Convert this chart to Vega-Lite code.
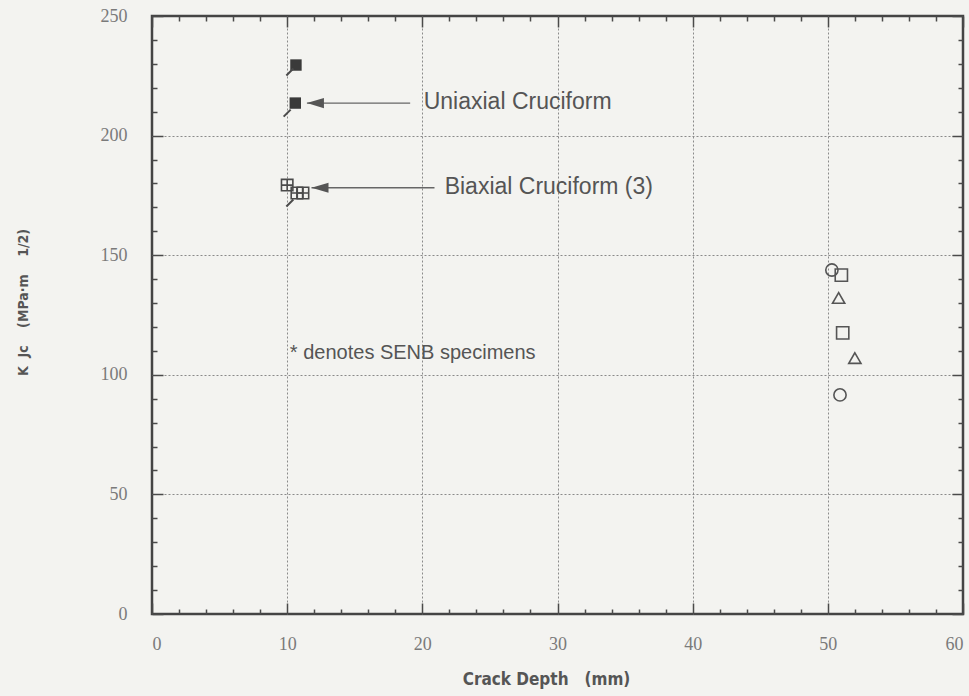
{
  "$schema": "https://vega.github.io/schema/vega-lite/v6.json",
  "width": 811,
  "height": 598,
  "autosize": {"type": "none"},
  "padding": {"left": 152, "top": 16, "right": 6, "bottom": 82},
  "background": "#f3f3f0",
  "config": {
    "view": {"stroke": "#444444", "strokeWidth": 2.5},
    "axis": {
      "domain": false,
      "tickColor": "#4a4a4a",
      "tickWidth": 1.5,
      "labelFont": "Liberation Serif",
      "labelFontSize": 18,
      "labelColor": "#7a7a7a",
      "gridColor": "#8a8a8a",
      "gridDash": [2, 2],
      "gridWidth": 1
    }
  },
  "datasets": {
    "uniaxial": [
      {"depth": 10.65, "kjc": 229.5},
      {"depth": 10.6, "kjc": 213.6}
    ],
    "biaxial": [
      {"depth": 10.0, "kjc": 179.3},
      {"depth": 10.72, "kjc": 176.0},
      {"depth": 11.17, "kjc": 176.0}
    ],
    "senb_marks": [
      {"depth": 10.2, "kjc": 226.6},
      {"depth": 10.0, "kjc": 209.4},
      {"depth": 10.2, "kjc": 171.8}
    ],
    "deep": [
      {"depth": 50.3, "kjc": 143.8, "set": "A"},
      {"depth": 51.0, "kjc": 141.7, "set": "B"},
      {"depth": 50.8, "kjc": 132.1, "set": "C"},
      {"depth": 51.1, "kjc": 117.5, "set": "B"},
      {"depth": 52.0, "kjc": 107.0, "set": "C"},
      {"depth": 50.9, "kjc": 91.6, "set": "A"}
    ],
    "arrows": [
      {"depth": 11.46, "end": 19.1, "kjc": 213.6, "head": 12.09},
      {"depth": 11.8, "end": 20.9, "kjc": 178.2, "head": 12.43}
    ],
    "callouts": [
      {"label": "Uniaxial Cruciform", "depth": 20.1, "kjc": 214},
      {"label": "Biaxial Cruciform (3)", "depth": 21.65, "kjc": 178.5}
    ],
    "footnote": [
      {"label": "* denotes SENB specimens", "depth": 10.2, "kjc": 109}
    ]
  },
  "layer": [
    {
      "data": {"name": "uniaxial"},
      "mark": {"type": "point", "shape": "square", "filled": true, "size": 130, "color": "#3a3a3a", "opacity": 1},
      "encoding": {
        "x": {
          "field": "depth", "type": "quantitative",
          "scale": {"domain": [0, 60], "nice": false},
          "axis": {
            "orient": "bottom",
            "values": [0,2,4,6,8,10,12,14,16,18,20,22,24,26,28,30,32,34,36,38,40,42,44,46,48,50,52,54,56,58,60],
            "labelExpr": "datum.value % 10 === 0 ? datum.label : ''",
            "grid": true,
            "gridOpacity": {"condition": {"test": "datum.value % 10 === 0 && datum.value > 0 && datum.value < 60", "value": 1}, "value": 0},
            "tickSize": {"condition": {"test": "datum.value % 10 === 0", "value": -11}, "value": -5},
            "labelPadding": 32,
            "title": "Crack Depth\u00a0\u00a0\u00a0(mm)",
            "titleFont": "Liberation Sans Narrow, DejaVu Sans Condensed, sans-serif",
            "titleFontWeight": "bold",
            "titleFontSize": 17,
            "titleColor": "#555555",
            "titlePadding": 18,
            "titleX": 394
          }
        },
        "y": {
          "field": "kjc", "type": "quantitative",
          "scale": {"domain": [0, 250], "nice": false},
          "axis": {
            "orient": "left",
            "values": [0,10,20,30,40,50,60,70,80,90,100,110,120,130,140,150,160,170,180,190,200,210,220,230,240,250],
            "labelExpr": "datum.value % 50 === 0 ? datum.label : ''",
            "grid": true,
            "gridOpacity": {"condition": {"test": "datum.value % 50 === 0 && datum.value > 0 && datum.value < 250", "value": 1}, "value": 0},
            "tickSize": {"condition": {"test": "datum.value % 50 === 0", "value": -11}, "value": -5},
            "labelPadding": 36,
            "title": "K\u00a0\u00a0Jc\u00a0\u00a0\u00a0\u00a0(MPa·m\u00a0\u00a0\u00a0\u00a01/2)",
            "titleFont": "Liberation Sans Narrow, DejaVu Sans Condensed, sans-serif",
            "titleFontWeight": "bold",
            "titleFontSize": 14,
            "titleColor": "#555555",
            "titleX": -122,
            "titleY": 286
          }
        }
      }
    },
    {
      "data": {"name": "deep"},
      "mark": {"type": "point", "filled": false, "size": 150, "strokeWidth": 1.6, "color": "#555555", "opacity": 1},
      "encoding": {
        "x": {
          "field": "depth", "type": "quantitative",
          "scale": {"domain": [0, 60], "nice": false},
          "axis": {
            "orient": "top",
            "values": [0,2,4,6,8,10,12,14,16,18,20,22,24,26,28,30,32,34,36,38,40,42,44,46,48,50,52,54,56,58,60],
            "labels": false,
            "grid": false,
            "tickSize": {"condition": {"test": "datum.value % 10 === 0", "value": -11}, "value": -5},
            "title": null
          }
        },
        "y": {
          "field": "kjc", "type": "quantitative",
          "scale": {"domain": [0, 250], "nice": false},
          "axis": {
            "orient": "right",
            "values": [0,10,20,30,40,50,60,70,80,90,100,110,120,130,140,150,160,170,180,190,200,210,220,230,240,250],
            "labels": false,
            "grid": false,
            "tickSize": {"condition": {"test": "datum.value % 50 === 0", "value": -11}, "value": -5},
            "title": null
          }
        },
        "shape": {
          "field": "set", "type": "nominal",
          "scale": {"domain": ["A", "B", "C"], "range": ["circle", "square", "triangle-up"]},
          "legend": null
        }
      }
    },
    {
      "data": {"name": "biaxial"},
      "mark": {"type": "point", "shape": "M-1,-1H1V1H-1Z M0,-1V1 M-1,0H1", "filled": false, "size": 130, "strokeWidth": 1.6, "color": "#4a4a4a", "opacity": 1},
      "encoding": {
        "x": {"field": "depth", "type": "quantitative", "scale": {"domain": [0, 60], "nice": false}, "axis": null},
        "y": {"field": "kjc", "type": "quantitative", "scale": {"domain": [0, 250], "nice": false}, "axis": null}
      }
    },
    {
      "data": {"name": "senb_marks"},
      "mark": {"type": "point", "shape": "M-1,1L1,-1", "filled": false, "size": 49, "strokeWidth": 2, "color": "#4a4a4a", "opacity": 1},
      "encoding": {
        "x": {"field": "depth", "type": "quantitative", "scale": {"domain": [0, 60], "nice": false}, "axis": null},
        "y": {"field": "kjc", "type": "quantitative", "scale": {"domain": [0, 250], "nice": false}, "axis": null}
      }
    },
    {
      "data": {"name": "arrows"},
      "mark": {"type": "rule", "color": "#666666", "strokeWidth": 1.3},
      "encoding": {
        "x": {"field": "depth", "type": "quantitative", "scale": {"domain": [0, 60], "nice": false}, "axis": null},
        "x2": {"field": "end"},
        "y": {"field": "kjc", "type": "quantitative", "scale": {"domain": [0, 250], "nice": false}, "axis": null}
      }
    },
    {
      "data": {"name": "arrows"},
      "mark": {"type": "point", "shape": "M-1,0L1,-0.6L1,0.6Z", "filled": true, "size": 289, "color": "#555555", "opacity": 1},
      "encoding": {
        "x": {"field": "head", "type": "quantitative", "scale": {"domain": [0, 60], "nice": false}, "axis": null},
        "y": {"field": "kjc", "type": "quantitative", "scale": {"domain": [0, 250], "nice": false}, "axis": null}
      }
    },
    {
      "data": {"name": "callouts"},
      "mark": {"type": "text", "align": "left", "baseline": "middle", "font": "Liberation Sans", "fontSize": 23, "color": "#555555"},
      "encoding": {
        "x": {"field": "depth", "type": "quantitative", "scale": {"domain": [0, 60], "nice": false}, "axis": null},
        "y": {"field": "kjc", "type": "quantitative", "scale": {"domain": [0, 250], "nice": false}, "axis": null},
        "text": {"field": "label"}
      }
    },
    {
      "data": {"name": "footnote"},
      "mark": {"type": "text", "align": "left", "baseline": "middle", "font": "Liberation Sans", "fontSize": 20, "color": "#555555"},
      "encoding": {
        "x": {"field": "depth", "type": "quantitative", "scale": {"domain": [0, 60], "nice": false}, "axis": null},
        "y": {"field": "kjc", "type": "quantitative", "scale": {"domain": [0, 250], "nice": false}, "axis": null},
        "text": {"field": "label"}
      }
    }
  ],
  "resolve": {"axis": {"x": "independent", "y": "independent"}}
}
